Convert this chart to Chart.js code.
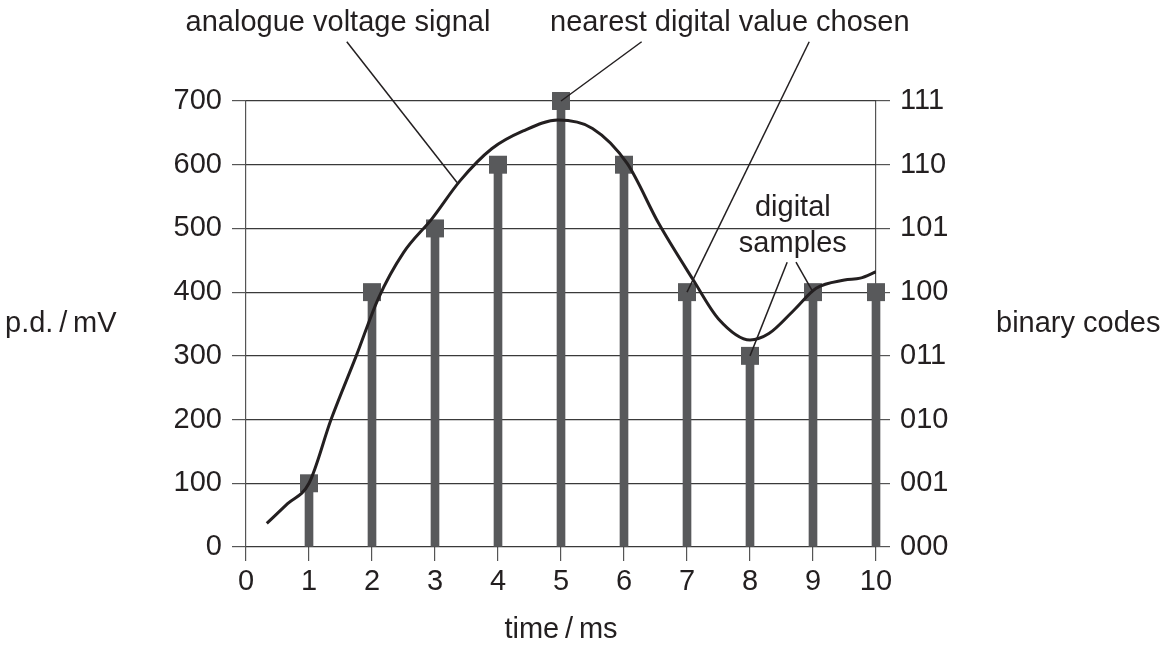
<!DOCTYPE html>
<html>
<head>
<meta charset="utf-8">
<script src="https://cdn.jsdelivr.net/npm/chart.js@4/dist/chart.umd.min.js"></script>
<style>
  html, body { margin: 0; padding: 0; background: #fff; }
  #wrap { width: 1172px; height: 648px; }
</style>
</head>
<body>
<div id="wrap"><canvas id="myChart" width="1172" height="648"></canvas></div>
<script>
// sample times (ms) and the digital value picked at each one (mV)
const sampleTimes  = [1, 2, 3, 4, 5, 6, 7, 8, 9, 10];
const sampleValues = [100, 400, 500, 600, 700, 600, 400, 300, 400, 400];

// analogue signal
const signalTimes  = [0.33, 0.66, 1.0, 1.35, 1.75, 2.1, 2.5, 2.95, 3.4, 3.9, 4.4, 4.95, 5.5, 6.05, 6.55, 7.1, 7.5, 8.0, 8.3, 8.7, 9.05, 9.5, 9.75, 10.0];
const signalValues = [37, 68, 100, 200, 300, 390, 462, 515, 575, 625, 653, 670, 657, 602, 508, 419, 358, 325, 335, 372, 406, 419, 422, 432];

const binaryCodes = ['000', '001', '010', '011', '100', '101', '110', '111'];

// annotation texts, placed in data units (time, mV)
const noteTexts = ['analogue voltage signal', 'nearest digital value chosen', 'digital', 'samples'];
const noteAt    = [[1.46, 823], [7.68, 823], [8.68, 532], [8.68, 476]];
// leader lines: [fromTime, fromMv, toTime, toMv]
const leaders = [
    [1.60, 793, 3.35, 572],
    [6.28, 793, 5, 700],
    [8.94, 793, 7, 400],
    [8.59, 447, 8, 300],
    [8.73, 447, 9, 400]
];

const ink  = '#231f20';
const grey = '#58595b';
const font = '"Liberation Sans", Arial, Helvetica, sans-serif';

const notesPlugin = {
    id: 'notes',
    afterDraw(chart) {
        const ctx = chart.ctx;
        const x = chart.scales.x, y = chart.scales.y;
        const area = chart.chartArea;
        ctx.save();
        ctx.strokeStyle = ink;
        ctx.lineWidth = 1.5;
        leaders.forEach(l => {
            ctx.beginPath();
            ctx.moveTo(x.getPixelForValue(l[0]), y.getPixelForValue(l[1]));
            ctx.lineTo(x.getPixelForValue(l[2]), y.getPixelForValue(l[3]));
            ctx.stroke();
        });
        ctx.fillStyle = ink;
        ctx.font = '29px ' + font;
        ctx.textBaseline = 'middle';
        ctx.textAlign = 'center';
        noteTexts.forEach((t, i) => {
            ctx.fillText(t, x.getPixelForValue(noteAt[i][0]), y.getPixelForValue(noteAt[i][1]));
        });
        // axis titles
        const midY = (area.top + area.bottom) / 2;
        ctx.fillText('time\u2009/\u2009ms', (area.left + area.right) / 2, 630);
        ctx.textAlign = 'left';
        ctx.fillText('p.d.\u2009/\u2009mV', 5, midY);
        ctx.fillText('binary codes', 996, midY);
        ctx.restore();
    }
};

new Chart(document.getElementById('myChart').getContext('2d'), {
    type: 'scatter',
    data: {
        datasets: [
            {
                type: 'line',
                label: 'analogue',
                data: signalTimes.map((t, i) => ({ x: t, y: signalValues[i] })),
                borderColor: ink,
                borderWidth: 3,
                pointRadius: 0,
                showLine: true,
                fill: false,
                cubicInterpolationMode: 'monotone',
                order: 0
            },
            {
                type: 'scatter',
                label: 'samples',
                data: sampleTimes.map((t, i) => ({ x: t, y: sampleValues[i] })),
                pointStyle: 'rect',
                pointRadius: 12.7,
                pointBackgroundColor: grey,
                pointBorderWidth: 0,
                clip: false,
                order: 1
            },
            {
                type: 'bar',
                label: 'stems',
                data: sampleTimes.map((t, i) => ({ x: t, y: sampleValues[i] })),
                backgroundColor: grey,
                borderWidth: 0,
                barThickness: 8,
                clip: false,
                order: 2
            }
        ]
    },
    options: {
        responsive: false,
        animation: false,
        events: [],
        layout: { padding: { top: 101, left: 0, right: 0, bottom: 0 } },
        plugins: { legend: { display: false }, tooltip: { enabled: false } },
        scales: {
            x: {
                type: 'linear',
                min: 0,
                max: 10,
                offset: false,
                afterFit: s => { s.height = 101; },
                border: { display: false },
                grid: {
                    offset: false,
                    color: c => (c.tick && (c.tick.value === 0 || c.tick.value === 10)) ? '#555' : 'transparent',
                    tickColor: '#555',
                    tickLength: 14,
                    lineWidth: 1.2
                },
                ticks: { stepSize: 1, padding: 4, color: ink, font: { size: 29, family: font } }
            },
            y: {
                position: 'left',
                min: 0,
                max: 700,
                afterFit: s => { s.width = 246; },
                border: { display: false },
                grid: { color: '#3a3a3a', tickColor: '#555', tickLength: 14, lineWidth: 1.2 },
                ticks: { stepSize: 100, padding: 10, color: ink, font: { size: 29, family: font } }
            },
            y2: {
                position: 'right',
                min: 0,
                max: 700,
                afterFit: s => { s.width = 296; },
                border: { display: false },
                grid: { drawOnChartArea: false, tickColor: '#555', tickLength: 14, lineWidth: 1.2 },
                ticks: {
                    stepSize: 100,
                    padding: 10,
                    color: ink,
                    font: { size: 29, family: font },
                    callback: v => binaryCodes[Math.round(v / 100)]
                }
            }
        }
    },
    plugins: [notesPlugin]
});
</script>
</body>
</html>
